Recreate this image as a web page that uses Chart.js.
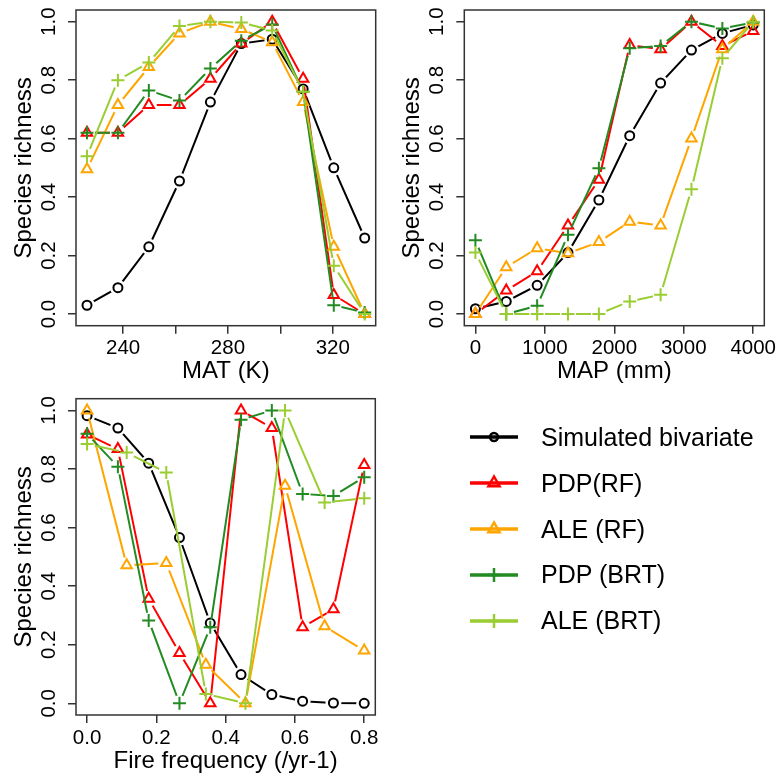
<!DOCTYPE html>
<html><head><meta charset="utf-8">
<script src="https://cdn.jsdelivr.net/npm/chart.js@4.4.1/dist/chart.umd.min.js"></script>
<style>
html,body{margin:0;padding:0;background:#fff;}
#wrap{position:relative;width:778px;height:779px;overflow:hidden;background:#fff;}
canvas{position:absolute;left:0;top:0;}
#legend{position:absolute;left:0;top:0;width:778px;height:779px;font-family:"Liberation Sans",Arial,sans-serif;font-size:25px;color:#000;}
.row{position:absolute;left:466px;height:40px;display:flex;align-items:center;white-space:nowrap;line-height:1;}
.row svg{width:56px;height:40px;margin-right:19px;flex:none;}
</style></head>
<body>
<div id="wrap">
<canvas id="c1" width="778" height="779"></canvas>
<canvas id="c2" width="778" height="779"></canvas>
<canvas id="c3" width="778" height="779"></canvas>
<div id="legend"></div>
</div>
<script>
// ---------------- data ----------------
const seriesNames = ['Simulated bivariate', 'PDP(RF)', 'ALE (RF)', 'PDP (BRT)', 'ALE (BRT)'];

const yTicks = [0, 0.2, 0.4, 0.6, 0.8, 1.0];
const yTickLabels = ['0.0', '0.2', '0.4', '0.6', '0.8', '1.0'];

const matTicks = [240, 260, 280, 300, 320];
const matTickLabels = ['240', '', '280', '', '320'];
const mapTicks = [0, 1000, 2000, 3000, 4000];
const mapTickLabels = ['0', '1000', '2000', '3000', '4000'];
const fireTicks = [0, 0.2, 0.4, 0.6, 0.8];
const fireTickLabels = ['0.0', '0.2', '0.4', '0.6', '0.8'];

// MAT panel
const matX = [226.2, 238.0, 249.8, 261.5, 273.3, 285.1, 296.9, 308.7, 320.4, 332.2];
const matSim    = [0.03, 0.09, 0.23, 0.455, 0.725, 0.925, 0.94, 0.77, 0.50, 0.26];
const matPdpRf  = [0.62, 0.62, 0.715, 0.715, 0.805, 0.925, 1.0, 0.805, 0.065, 0.0];
const matAleRf  = [0.495, 0.715, 0.845, 0.96, 1.0, 0.975, 0.93, 0.725, 0.23, 0.0];
const matPdpBrt = [0.62, 0.62, 0.765, 0.73, 0.84, 0.935, 0.99, 0.76, 0.03, 0.005];
const matAleBrt = [0.54, 0.80, 0.86, 0.985, 1.0, 0.997, 0.97, 0.76, 0.165, 0.0];

// MAP panel
const mapX = [0, 444, 889, 1333, 1778, 2222, 2667, 3111, 3556, 4000];
const mapSim    = [0.018, 0.043, 0.098, 0.21, 0.39, 0.61, 0.79, 0.903, 0.96, 0.989];
const mapPdpRf  = [0.0, 0.08, 0.146, 0.303, 0.459, 0.92, 0.906, 1.0, 0.917, 0.968];
const mapAleRf  = [0.0, 0.16, 0.225, 0.208, 0.246, 0.316, 0.303, 0.60, 0.906, 1.0];
const mapPdpBrt = [0.252, 0.0, 0.028, 0.271, 0.499, 0.909, 0.917, 1.0, 0.977, 0.997];
const mapAleBrt = [0.21, 0.0, 0.0, 0.0, 0.0, 0.043, 0.066, 0.427, 0.875, 1.0];

// Fire panel
const fireX10 = [0, 0.0889, 0.1778, 0.2667, 0.3556, 0.4444, 0.5333, 0.6222, 0.7111, 0.8];
const fireX8  = [0, 0.1143, 0.2286, 0.3429, 0.4571, 0.5714, 0.6857, 0.8];
const fireSim    = [0.982, 0.94, 0.82, 0.566, 0.274, 0.098, 0.03, 0.007, 0.001, 0.0];
const firePdpRf  = [0.918, 0.868, 0.357, 0.172, 0.0, 1.0, 0.94, 0.26, 0.321, 0.814];
const fireAleRf  = [1.0, 0.471, 0.479, 0.132, 0.0, 0.743, 0.263, 0.18];
const firePdpBrt = [0.92, 0.808, 0.283, 0.0, 0.26, 0.968, 1.0, 0.715, 0.708, 0.772];
const fireAleBrt = [0.885, 0.856, 0.788, 0.032, 0.0, 1.0, 0.686, 0.70];

// ---------------- styles ----------------
const seriesColors  = ['#000000', '#ff0000', '#ffa500', '#228b22', '#9acd32'];
const seriesMarkers = ['circle', 'triangle', 'triangle', 'cross', 'cross'];
const seriesRadius  = [4.5, 6, 6, 6.5, 6.5];
const FONT = '"Liberation Sans", Arial, sans-serif';
const TICK_SIZE = 20.5, TITLE_SIZE = 24;
const GAP = 8;
const AXIS_COLOR = '#333';

Chart.defaults.font.family = FONT;
Chart.defaults.color = '#000';

const boxPlugin = {
  id: 'box',
  afterDraw(chart) {
    const a = chart.chartArea, ctx = chart.ctx;
    ctx.save();
    ctx.strokeStyle = AXIS_COLOR;
    ctx.lineWidth = 1.5;
    ctx.strokeRect(a.left, a.top, a.right - a.left, a.bottom - a.top);
    ctx.restore();
  }
};

const yLabelPlugin = {
  id: 'yRotLabels',
  afterDraw(chart) {
    const s = chart.scales.y, ctx = chart.ctx, a = chart.chartArea;
    ctx.save();
    ctx.fillStyle = '#000';
    ctx.font = TICK_SIZE + 'px ' + FONT;
    ctx.textAlign = 'center';
    ctx.textBaseline = 'alphabetic';
    s.ticks.forEach((t, i) => {
      const py = s.getPixelForValue(t.value);
      ctx.save();
      ctx.translate(a.left - 21, py);
      ctx.rotate(-Math.PI / 2);
      ctx.fillText(yTickLabels[yTicks.indexOf(t.value)], 0, 0);
      ctx.restore();
    });
    ctx.restore();
  }
};

const gapPlugin = {
  id: 'gaps',
  beforeDatasetDraw(chart, args) {
    const ctx = chart.ctx;
    ctx.save();
    ctx.beginPath();
    ctx.rect(0, 0, chart.width, chart.height);
    args.meta.data.forEach(p => {
      ctx.moveTo(p.x + GAP, p.y);
      ctx.arc(p.x, p.y, GAP, 0, Math.PI * 2);
    });
    ctx.clip('evenodd');
  },
  afterDatasetDraw(chart, args) {
    const ctx = chart.ctx;
    ctx.restore();
    const area = chart.chartArea;
    args.meta.data.forEach(p => p.draw(ctx, area));
  }
};

const Y_AXIS_W = 72, X_AXIS_H = 60.4;

function makePanel(id, area, xMin, xMax, xTicks, xTickLabels, xTitle, xsList, ysList) {
  const datasets = ysList.map((ys, i) => ({
    label: seriesNames[i],
    data: ys.map((y, j) => ({ x: xsList[i][j], y: y })),
    borderColor: seriesColors[i],
    backgroundColor: seriesColors[i],
    borderWidth: 2,
    pointStyle: seriesMarkers[i],
    pointRadius: seriesRadius[i],
    pointBorderWidth: 2,
    pointBorderColor: seriesColors[i],
    pointBackgroundColor: 'rgba(0,0,0,0)',
    tension: 0,
    order: 5 - i,
    clip: false
  }));
  return new Chart(document.getElementById(id), {
    type: 'line',
    data: { datasets },
    plugins: [gapPlugin, boxPlugin, yLabelPlugin],
    options: {
      responsive: false,
      animation: false,
      devicePixelRatio: 1,
      layout: {
        padding: {
          left: area.left - Y_AXIS_W,
          top: area.top,
          right: 778 - area.right,
          bottom: 779 - area.bottom - X_AXIS_H
        }
      },
      plugins: { legend: { display: false }, tooltip: { enabled: false } },
      scales: {
        x: {
          type: 'linear',
          min: xMin, max: xMax,
          afterBuildTicks: s => { s.ticks = xTicks.map(v => ({ value: v })); },
          afterFit: s => { s.height = X_AXIS_H; s.paddingLeft = 0; s.paddingRight = 0; s.paddingTop = 0; s.paddingBottom = 0; },
          ticks: {
            autoSkip: false, maxRotation: 0, minRotation: 0,
            padding: 2.7,
            font: { size: TICK_SIZE },
            color: '#000',
            callback: (v) => { const k = xTicks.indexOf(v); return k >= 0 ? xTickLabels[k] : ''; }
          },
          grid: { drawOnChartArea: false, drawTicks: true, tickLength: 8, color: AXIS_COLOR, lineWidth: 1.5 },
          border: { display: false },
          title: { display: true, text: xTitle, font: { size: TITLE_SIZE }, color: '#000', padding: { top: 0, bottom: 0 } }
        },
        y: {
          type: 'linear',
          min: -0.04, max: 1.04,
          afterBuildTicks: s => { s.ticks = yTicks.map(v => ({ value: v })); },
          afterFit: s => { s.width = Y_AXIS_W; s.paddingTop = 0; s.paddingBottom = 0; },
          ticks: { display: false },
          grid: { drawOnChartArea: false, drawTicks: true, tickLength: 8, color: AXIS_COLOR, lineWidth: 1.5 },
          border: { display: false },
          title: { display: true, text: 'Species richness', font: { size: TITLE_SIZE }, color: '#000', padding: { top: 6.1, bottom: 0 } }
        }
      }
    }
  });
}

makePanel('c1', { left: 76, top: 10, right: 375.7, bottom: 325.7 }, 222, 336.4,
  matTicks, matTickLabels, 'MAT (K)',
  [matX, matX, matX, matX, matX],
  [matSim, matPdpRf, matAleRf, matPdpBrt, matAleBrt]);

makePanel('c2', { left: 464.3, top: 10, right: 764.3, bottom: 325.7 }, -160, 4160,
  mapTicks, mapTickLabels, 'MAP (mm)',
  [mapX, mapX, mapX, mapX, mapX],
  [mapSim, mapPdpRf, mapAleRf, mapPdpBrt, mapAleBrt]);

makePanel('c3', { left: 76, top: 398.7, right: 375.3, bottom: 715 }, -0.032, 0.832,
  fireTicks, fireTickLabels, 'Fire frequency (/yr-1)',
  [fireX10, fireX10, fireX8, fireX10, fireX8],
  [fireSim, firePdpRf, fireAleRf, firePdpBrt, fireAleBrt]);

// ---------------- legend ----------------
function legendSymbol(i) {
  const c = seriesColors[i];
  let m = '';
  if (seriesMarkers[i] === 'circle') {
    m = `<circle cx="28" cy="20" r="4" fill="none" stroke="${c}" stroke-width="2.5"/>`;
  } else if (seriesMarkers[i] === 'triangle') {
    m = `<polygon points="28,13.5 22.4,23.25 33.6,23.25" fill="none" stroke="${c}" stroke-width="2.5"/>`;
  } else {
    m = `<line x1="28" y1="13" x2="28" y2="27" stroke="${c}" stroke-width="2.5"/><line x1="21" y1="20" x2="35" y2="20" stroke="${c}" stroke-width="2.5"/>`;
  }
  return `<svg viewBox="0 0 56 40"><line x1="4" y1="20" x2="52" y2="20" stroke="${c}" stroke-width="3.5"/>${m}</svg>`;
}
const leg = document.getElementById('legend');
seriesNames.forEach((name, i) => {
  const row = document.createElement('div');
  row.className = 'row';
  row.style.top = (437.3 + i * 45.85 - 20) + 'px';
  row.innerHTML = legendSymbol(i) + '<span>' + name + '</span>';
  leg.appendChild(row);
});
</script>
</body></html>
